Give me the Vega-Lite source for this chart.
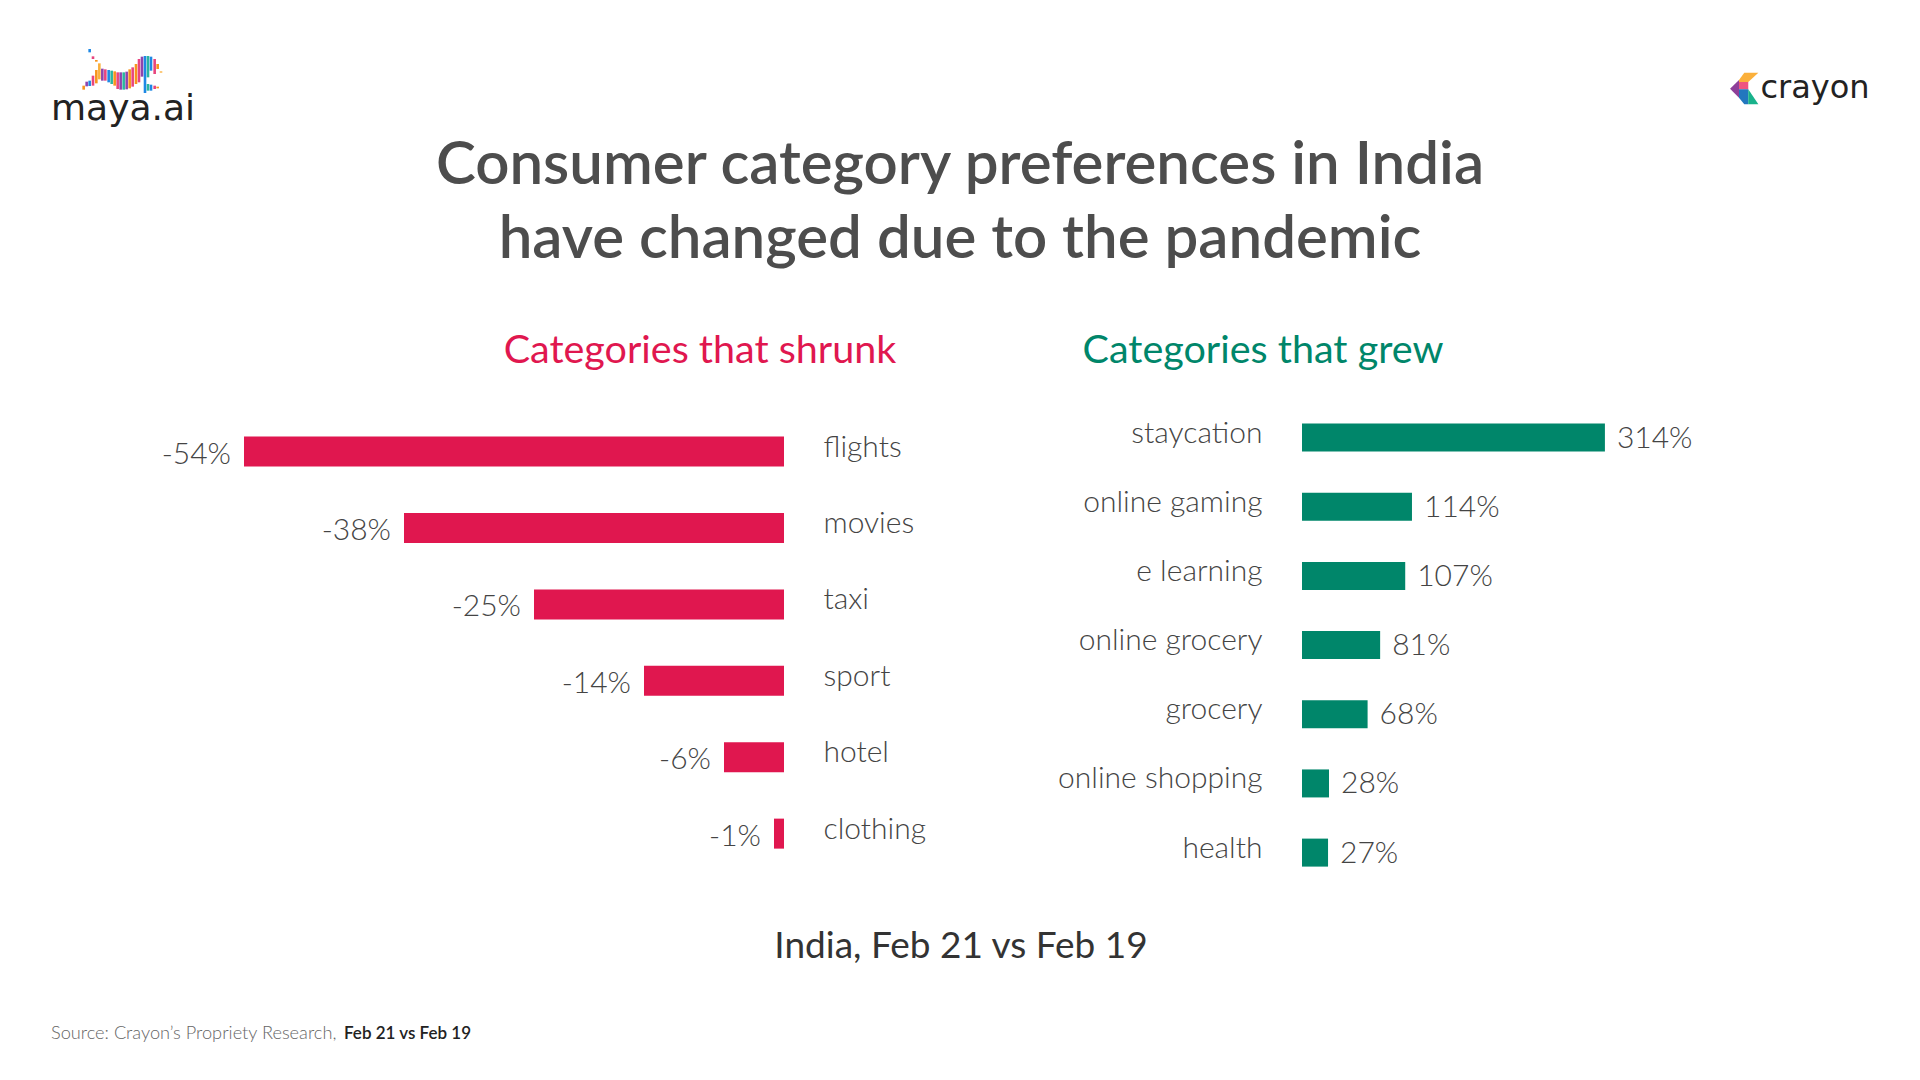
{
  "$schema": "https://vega.github.io/schema/vega-lite/v6.json",
  "background": "#ffffff",
  "padding": {"left": 44, "top": 0, "right": 0, "bottom": 0},
  "spacing": 0,
  "config": {
    "view": {"stroke": null},
    "font": "Lato",
    "title": {"font": "Lato"}
  },
  "datasets": {
    "logos": [
      {"brand": "maya.ai", "side": "left"},
      {"brand": "crayon", "side": "right"}
    ],
    "crayon_arrow": [
      {"side": "right", "piece": "yellow"},
      {"side": "right", "piece": "pink"},
      {"side": "right", "piece": "purple"},
      {"side": "right", "piece": "blue"},
      {"side": "right", "piece": "green"}
    ],
    "maya_stripes": [
      {"pos": 17, "lo": 19, "hi": 31, "tone": "orange"},
      {"pos": 26, "lo": 29, "hi": 43, "tone": "purple"},
      {"pos": 35, "lo": 30, "hi": 46, "tone": "blue"},
      {"pos": 35, "lo": 131, "hi": 141, "tone": "blue"},
      {"pos": 45, "lo": 31, "hi": 61, "tone": "pink"},
      {"pos": 45, "lo": 111, "hi": 119, "tone": "pink"},
      {"pos": 55, "lo": 38, "hi": 78, "tone": "orange"},
      {"pos": 55, "lo": 103, "hi": 108, "tone": "orange"},
      {"pos": 64, "lo": 50, "hi": 98, "tone": "yellow"},
      {"pos": 73, "lo": 46, "hi": 82, "tone": "purple"},
      {"pos": 82, "lo": 46, "hi": 80, "tone": "pink"},
      {"pos": 92, "lo": 41, "hi": 78, "tone": "blue"},
      {"pos": 101, "lo": 36, "hi": 76, "tone": "teal"},
      {"pos": 110, "lo": 31, "hi": 74, "tone": "orange"},
      {"pos": 119, "lo": 21, "hi": 71, "tone": "pink"},
      {"pos": 128, "lo": 19, "hi": 71, "tone": "purple"},
      {"pos": 137, "lo": 19, "hi": 71, "tone": "teal"},
      {"pos": 146, "lo": 20, "hi": 73, "tone": "purple"},
      {"pos": 155, "lo": 23, "hi": 80, "tone": "orange"},
      {"pos": 164, "lo": 28, "hi": 86, "tone": "pink"},
      {"pos": 174, "lo": 36, "hi": 96, "tone": "orange"},
      {"pos": 183, "lo": 41, "hi": 111, "tone": "pink"},
      {"pos": 192, "lo": 58, "hi": 118, "tone": "purple"},
      {"pos": 201, "lo": 9, "hi": 120, "tone": "blue"},
      {"pos": 210, "lo": 56, "hi": 120, "tone": "teal"},
      {"pos": 210, "lo": 16, "hi": 36, "tone": "teal"},
      {"pos": 219, "lo": 76, "hi": 118, "tone": "blue"},
      {"pos": 219, "lo": 16, "hi": 34, "tone": "blue"},
      {"pos": 230, "lo": 66, "hi": 111, "tone": "pink"},
      {"pos": 230, "lo": 21, "hi": 31, "tone": "pink"},
      {"pos": 239, "lo": 81, "hi": 96, "tone": "orange"},
      {"pos": 239, "lo": 23, "hi": 28, "tone": "orange"},
      {"pos": 249, "lo": 70, "hi": 74, "tone": "yellow"}
    ],
    "shrunk": [
      {"category": "flights", "change": -54},
      {"category": "movies", "change": -38},
      {"category": "taxi", "change": -25},
      {"category": "sport", "change": -14},
      {"category": "hotel", "change": -6},
      {"category": "clothing", "change": -1}
    ],
    "grew": [
      {"category": "staycation", "change": 314},
      {"category": "online gaming", "change": 114},
      {"category": "e learning", "change": 107},
      {"category": "online grocery", "change": 81},
      {"category": "grocery", "change": 68},
      {"category": "online shopping", "change": 28},
      {"category": "health", "change": 27}
    ],
    "source": [
      {"part": "Source: Crayon’s Propriety Research,", "weight": "light"},
      {"part": "Feb 21 vs Feb 19", "weight": "bold"}
    ]
  },
  "vconcat": [
    {
      "width": 1834,
      "height": 135,
      "resolve": {"scale": {"x": "independent", "y": "independent", "color": "independent", "shape": "independent", "size": "independent"}},
      "layer": [
        {
          "data": {"name": "maya_stripes"},
          "mark": {"type": "rule", "strokeWidth": 2.6},
          "encoding": {
            "x": {"field": "pos", "type": "quantitative", "scale": {"domain": [0, 270], "range": [34, 124], "nice": false, "zero": false}, "axis": null},
            "y": {"field": "lo", "type": "quantitative", "scale": {"domain": [0, 156], "range": [96, 44], "nice": false, "zero": false}, "axis": null},
            "y2": {"field": "hi"},
            "color": {"field": "tone", "type": "nominal", "scale": {"domain": ["orange", "purple", "blue", "pink", "teal", "yellow"], "range": ["#F7941D", "#8E44AD", "#1E88E5", "#E8457F", "#2BB5A0", "#FBB03B"]}, "legend": null}
          }
        },
        {
          "data": {"name": "logos"},
          "mark": {"type": "text", "align": "center", "baseline": "alphabetic", "font": "DejaVu Sans", "color": "#222222"},
          "encoding": {
            "x": {"field": "side", "type": "nominal", "scale": {"type": "point", "domain": ["left", "right"], "range": [79, 1771], "padding": 0}, "axis": null},
            "y": {"field": "side", "type": "nominal", "scale": {"type": "point", "domain": ["left", "right"], "range": [120, 98], "padding": 0}, "axis": null},
            "size": {"field": "side", "type": "nominal", "scale": {"domain": ["left", "right"], "range": [36, 32]}, "legend": null},
            "text": {"field": "brand"}
          }
        },
        {
          "data": {"name": "crayon_arrow"},
          "mark": {"type": "point", "filled": true, "size": 1024, "opacity": 1, "strokeWidth": 0},
          "encoding": {
            "x": {"field": "side", "type": "nominal", "scale": {"type": "point", "domain": ["left", "right"], "range": [79, 1771], "padding": 0}, "axis": null},
            "y": {"field": "side", "type": "nominal", "scale": {"type": "point", "domain": ["left", "right"], "range": [120, 98], "padding": 0}, "axis": null},
            "shape": {"field": "piece", "type": "nominal", "scale": {"domain": ["yellow", "pink", "purple", "blue", "green"], "range": [
              "M-4.75,-1.125L-4.42,-1.58L-3.54,-1.58L-4.17,-1L-4.75,-1Z",
              "M-4.75,-1L-4.17,-1L-4.17,-0.54L-4.75,-0.54Z",
              "M-5.31,-0.58L-4.75,-1.125L-4.75,-0.02Z",
              "M-4.75,-0.54L-4.17,-0.54L-4.17,0.39L-4.42,0.39L-4.75,-0.02Z",
              "M-4.17,-0.54L-3.54,0.39L-4.17,0.39Z"
            ]}, "legend": null},
            "color": {"field": "piece", "type": "nominal", "scale": {"domain": ["yellow", "pink", "purple", "blue", "green"], "range": ["#FBB03B", "#EF5480", "#8E3F98", "#2277BE", "#18B28B"]}, "legend": null}
          }
        }
      ]
    },
    {
      "title": {
        "text": ["Consumer category preferences in India", "have changed due to the pandemic"],
        "fontSize": 60,
        "fontWeight": 600,
        "color": "#4d4d4d",
        "lineHeight": 74,
        "anchor": "middle",
        "baseline": "bottom",
        "offset": 0
      },
      "spacing": 131,
      "hconcat": [
        {
          "width": 740,
          "height": 520,
          "data": {"name": "shrunk"},
          "title": {"text": "Categories that shrunk", "color": "#E0174F", "fontSize": 39.5, "fontWeight": 400, "anchor": "middle", "frame": "group", "dx": 286, "offset": 1, "baseline": "alphabetic"},
          "transform": [{"calculate": "datum.change + '%'", "as": "label"}],
          "encoding": {
            "y": {
              "field": "category", "type": "nominal", "sort": null,
              "scale": {"paddingInner": 0, "paddingOuter": 0.403, "align": 0.169},
              "axis": {"orient": "right", "title": null, "domain": false, "ticks": false, "labelPadding": 39, "labelFontSize": 30, "labelFont": "Lato", "labelFontWeight": 300, "labelColor": "#444444", "labelBaseline": "alphabetic", "labelOffset": 5, "labelAlign": "left"}
            }
          },
          "layer": [
            {
              "mark": {"type": "bar", "height": 30, "color": "#E0174F"},
              "encoding": {"x": {"field": "change", "type": "quantitative", "scale": {"domain": [-74, 0], "nice": false}, "axis": null}}
            },
            {
              "mark": {"type": "text", "align": "right", "dx": -13, "dy": 12, "baseline": "alphabetic", "fontSize": 30, "fontWeight": 300, "color": "#444444"},
              "encoding": {"x": {"field": "change", "type": "quantitative"}, "text": {"field": "label"}}
            }
          ]
        },
        {
          "width": 574,
          "height": 525,
          "data": {"name": "grew"},
          "title": {"text": "Categories that grew", "color": "#00866A", "fontSize": 39.5, "fontWeight": 400, "anchor": "middle", "frame": "group", "dx": -326, "offset": 1, "baseline": "alphabetic"},
          "transform": [{"calculate": "datum.change + '%'", "as": "label"}],
          "encoding": {
            "y": {
              "field": "category", "type": "nominal", "sort": null,
              "scale": {"paddingInner": 0, "paddingOuter": 0.295, "align": 0},
              "axis": {"orient": "left", "title": null, "domain": false, "ticks": false, "labelPadding": 40, "labelFontSize": 30, "labelFont": "Lato", "labelFontWeight": 300, "labelColor": "#444444", "labelBaseline": "alphabetic", "labelOffset": 5, "labelAlign": "right", "labelLimit": 400}
            }
          },
          "layer": [
            {
              "mark": {"type": "bar", "height": 28, "color": "#00866A"},
              "encoding": {"x": {"field": "change", "type": "quantitative", "scale": {"domain": [0, 595], "nice": false}, "axis": null}}
            },
            {
              "mark": {"type": "text", "align": "left", "dx": 12, "dy": 10, "baseline": "alphabetic", "fontSize": 30, "fontWeight": 300, "color": "#444444"},
              "encoding": {"x": {"field": "change", "type": "quantitative"}, "text": {"field": "label"}}
            }
          ]
        }
      ]
    },
    {
      "width": 1834,
      "height": 100,
      "title": {"text": "India, Feb 21 vs Feb 19", "fontSize": 37, "fontWeight": 400, "color": "#333333", "anchor": "middle", "frame": "group", "baseline": "alphabetic", "offset": 0},
      "data": {"name": "source"},
      "encoding": {
        "x": {"field": "part", "type": "nominal", "sort": null, "scale": {"type": "point", "range": [7, 300], "padding": 0}, "axis": null}
      },
      "layer": [
        {
          "transform": [{"filter": "datum.weight === 'light'"}],
          "mark": {"type": "text", "align": "left", "baseline": "alphabetic", "fontSize": 18.2, "fontWeight": 300, "color": "#666666", "dy": -6},
          "encoding": {"text": {"field": "part"}}
        },
        {
          "transform": [{"filter": "datum.weight === 'bold'"}],
          "mark": {"type": "text", "align": "left", "baseline": "alphabetic", "fontSize": 17, "fontWeight": 600, "color": "#222222", "dy": -6},
          "encoding": {"text": {"field": "part"}}
        }
      ]
    }
  ]
}
